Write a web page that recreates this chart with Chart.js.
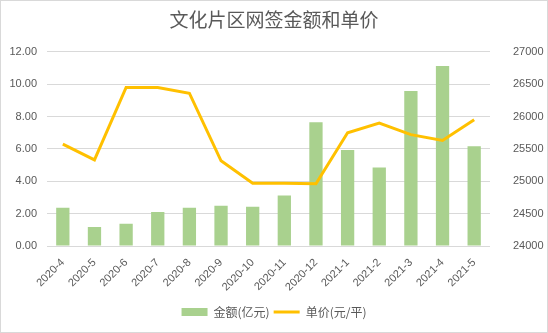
<!DOCTYPE html>
<html>
<head>
<meta charset="utf-8">
<script src="https://cdn.jsdelivr.net/npm/chart.js@4"></script>
<style>
  html, body { margin: 0; padding: 0; background: #fff; }
  #wrap { width: 548px; height: 333px; box-sizing: border-box; border: 1px solid #d9d9d9; }
  #myChart { display: block; }
</style>
</head>
<body>
<div id="wrap"><canvas id="myChart" width="546" height="331"></canvas></div>
<script>
var months = ["2020-4","2020-5","2020-6","2020-7","2020-8","2020-9","2020-10","2020-11","2020-12","2021-1","2021-2","2021-3","2021-4","2021-5"];
var amount = [2.36, 1.18, 1.37, 2.1, 2.36, 2.49, 2.43, 3.12, 7.65, 5.93, 4.85, 9.58, 11.13, 6.16];
var price = [25575, 25330, 26450, 26450, 26360, 25316, 24970, 24970, 24960, 25750, 25900, 25720, 25630, 25950];
var leftTicks = [0, 12, 2];
var rightTicks = [24000, 27000, 500];

var textColor = "#595959";
var cjk = "'Noto Sans CJK SC', 'Liberation Sans', sans-serif";

new Chart("myChart", {
  type: "bar",
  data: {
    labels: months,
    datasets: [{
      type: "bar",
      label: "金额(亿元)",
      data: amount,
      backgroundColor: "#a9d18e",
      yAxisID: "y",
      order: 2,
      pointStyle: "rect",
      categoryPercentage: 1,
      barPercentage: 0.42
    }, {
      type: "line",
      label: "单价(元/平)",
      data: price,
      borderColor: "#ffc000",
      backgroundColor: "#ffc000",
      borderWidth: 3,
      pointRadius: 0,
      tension: 0,
      fill: false,
      yAxisID: "y1",
      order: 1,
      pointStyle: "line"
    }]
  },
  options: {
    animation: false,
    responsive: false,
    layout: { padding: { left: 0, right: 0, top: 0, bottom: 4 } },
    plugins: {
      tooltip: { enabled: false },
      title: {
        display: true,
        text: "文化片区网签金额和单价",
        color: textColor,
        font: { family: cjk, size: 19, weight: "normal" },
        padding: { top: 7, bottom: 21 }
      },
      legend: {
        position: "bottom",
        labels: {
          color: textColor,
          font: { family: cjk, size: 12 },
          usePointStyle: true,
          pointStyleWidth: 26,
          boxHeight: 8,
          padding: 4,
          sort: function (a, b) { return a.datasetIndex - b.datasetIndex; }
        }
      }
    },
    scales: {
      x: {
        grid: { display: false },
        border: { display: false },
        ticks: {
          color: textColor,
          font: { family: "'Liberation Sans', sans-serif", size: 11 },
          minRotation: 45,
          maxRotation: 45,
          autoSkip: false,
          padding: 2
        },
        afterFit: function (s) { s.height = 56; }
      },
      y: {
        position: "left",
        min: leftTicks[0],
        max: leftTicks[1],
        grid: { color: "#d9d9d9", drawTicks: false },
        border: { display: false },
        ticks: {
          stepSize: leftTicks[2],
          color: textColor,
          font: { family: "'Liberation Sans', sans-serif", size: 11 },
          padding: 10,
          callback: function (v) { return v.toFixed(2); }
        },
        afterFit: function (s) { s.width = 46; }
      },
      y1: {
        position: "right",
        min: rightTicks[0],
        max: rightTicks[1],
        grid: { display: false },
        border: { display: false },
        ticks: {
          stepSize: rightTicks[2],
          color: textColor,
          font: { family: "'Liberation Sans', sans-serif", size: 11 },
          padding: 15,
          callback: function (v) { return String(v); }
        },
        afterFit: function (s) { s.width = 57; }
      }
    }
  }
});
</script>
</body>
</html>
